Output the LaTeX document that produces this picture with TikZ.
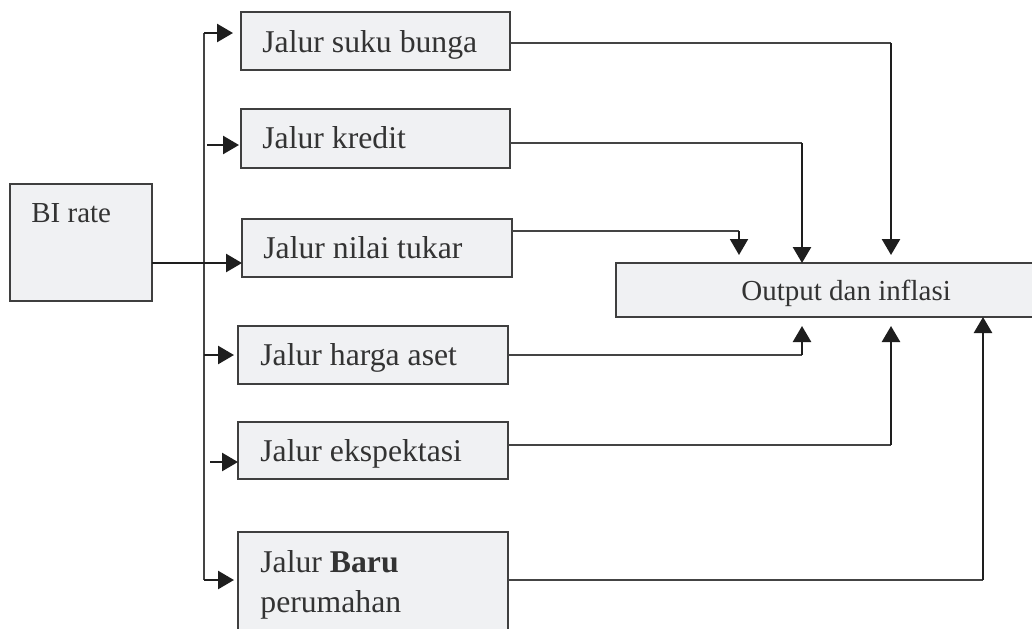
\documentclass[tikz,border=0pt]{standalone}
\usepackage{fontspec}
\setmainfont{Liberation Serif}
\usetikzlibrary{arrows.meta}
\definecolor{boxfill}{HTML}{F0F1F3}
\definecolor{boxline}{HTML}{3F3F3F}
\definecolor{txt}{HTML}{333333}
\definecolor{lnc}{HTML}{444444}
\definecolor{arc}{HTML}{1E1E1E}
\begin{document}
\begin{tikzpicture}[x=0.5pt,y=-0.5pt,
 box/.style={draw=boxline,fill=boxfill,line width=0.9pt,anchor=north west,inner sep=0pt,outer sep=0pt},
 lbl/.style={anchor=base west,inner sep=0pt,text=txt,font=\fontsize{15.85}{19}\selectfont},
 lbls/.style={lbl,font=\fontsize{14.5}{17}\selectfont},
 thinln/.style={draw=lnc,line width=0.8pt},
 arr/.style={draw=arc,line width=1.3pt,-{Triangle[length=8pt,width=9pt]}},
 trunkln/.style={draw=lnc,line width=0.9pt}]
\clip (0,0) rectangle (1032,628);
\fill[white] (0,0) rectangle (1032,628);
% boxes
\node[box,minimum width=71pt,minimum height=58.5pt] (bi) at (10,184) {};
\node[box,minimum width=134.5pt,minimum height=29pt] (sb) at (241,12) {};
\node[box,minimum width=134.5pt,minimum height=29.5pt] (kr) at (241,109) {};
\node[box,minimum width=135pt,minimum height=29pt] (nt) at (242,219) {};
\node[box,minimum width=135pt,minimum height=29pt] (ha) at (238,326) {};
\node[box,minimum width=135pt,minimum height=28.5pt] (ek) at (238,422) {};
\node[box,minimum width=135pt,minimum height=55pt] (pr) at (238,532) {};
\node[box,minimum width=210pt,minimum height=27pt] (out) at (616,263) {};
% labels
\node[lbls] (tbi) at (31,222) {BI rate};
\node[lbl] (tsb) at (262,52) {Jalur suku bunga};
\node[lbl] (tkr) at (262,148) {Jalur kredit};
\node[lbl] (tnt) at (263,258) {Jalur nilai tukar};
\node[lbl] (tha) at (260,365) {Jalur harga aset};
\node[lbl] (tek) at (260,461) {Jalur ekspektasi};
\node[lbl] (tpr1) at (260,572) {Jalur \textbf{Baru}};
\node[lbl] (tpr2) at (260,612) {perumahan};
\node[lbls] (tout) at (741,300) {Output dan inflasi};
% left side
\coordinate (tt) at (204,33);
\coordinate (tb) at (204,580);
\coordinate (k0) at (207,145);
\coordinate (n0) at (152,263);
\coordinate (h0) at (204,355);
\coordinate (e0) at (210,462);
\draw[trunkln] (tt) -- (tb);
\draw[arr,shorten >=4pt] (tt) -- (sb.west |- tt);
\draw[arr,shorten >=1pt] (k0) -- (kr.west |- k0);
\draw[arr] (bi.east |- n0) -- (nt.west |- n0);
\draw[arr,shorten >=2pt] (h0) -- (ha.west |- h0);
\draw[arr] (e0) -- (ek.west |- e0);
\draw[arr,shorten >=2pt] (tb) -- (pr.west |- tb);
% right side
\coordinate (c1) at (891,43);
\coordinate (c2) at (802,143);
\coordinate (c3) at (739,231);
\coordinate (c4) at (802,355);
\coordinate (c5) at (891,445);
\coordinate (c6) at (983,580);
\draw[thinln] (sb.east |- c1) -- (c1);
\draw[arr,shorten >=4pt] (c1) -- (out.north -| c1);
\draw[thinln] (kr.east |- c2) -- (c2);
\draw[arr] (c2) -- (out.north -| c2);
\draw[thinln] (nt.east |- c3) -- (c3);
\draw[arr,line width=1pt,shorten >=4pt] (c3) -- (out.north -| c3);
\draw[thinln] (ha.east |- c4) -- (c4);
\draw[arr,shorten >=4.5pt] (c4) -- (out.south -| c4);
\draw[thinln] (ek.east |- c5) -- (c5);
\draw[arr,shorten >=4.5pt] (c5) -- (out.south -| c5);
\draw[thinln,line width=1pt] (pr.east |- c6) -- (c6);
\draw[arr] (c6) -- (out.south -| c6);
\end{tikzpicture}
\end{document}
